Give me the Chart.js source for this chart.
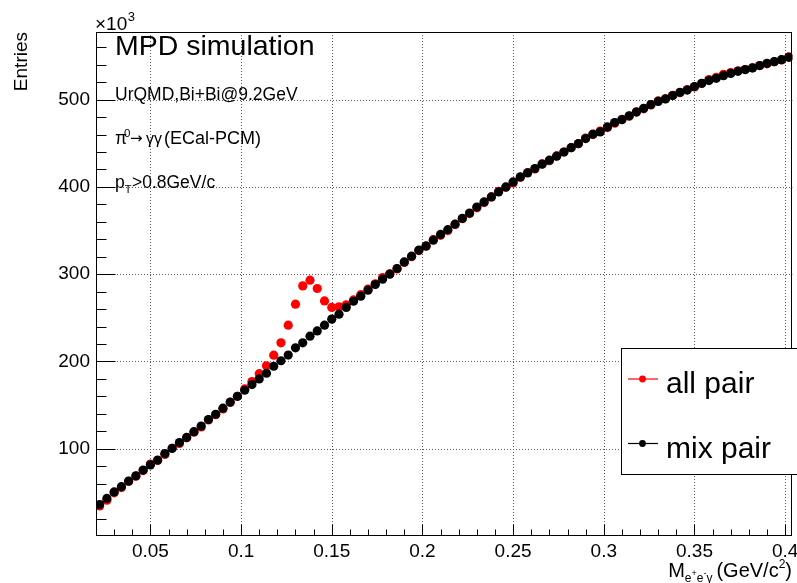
<!DOCTYPE html>
<html>
<head>
<meta charset="utf-8">
<script src="https://cdn.jsdelivr.net/npm/chart.js@4/dist/chart.umd.min.js"></script>
<style>
  html, body { margin: 0; padding: 0; background: #ffffff; }
  #wrap { width: 797px; height: 583px; }
</style>
</head>
<body>
<div id="wrap"><canvas id="c" width="797" height="583"></canvas></div>
<script>
// ---------------- data (values in units of 10^3 entries) ----------------
const binCenters = [
  0.022,0.026,0.030,0.034,0.038,0.042,0.046,0.050,0.054,0.058,
  0.062,0.066,0.070,0.074,0.078,0.082,0.086,0.090,0.094,0.098,
  0.102,0.106,0.110,0.114,0.118,0.122,0.126,0.130,0.134,0.138,
  0.142,0.146,0.150,0.154,0.158,0.162,0.166,0.170,0.174,0.178,
  0.182,0.186,0.190,0.194,0.198,0.202,0.206,0.210,0.214,0.218,
  0.222,0.226,0.230,0.234,0.238,0.242,0.246,0.250,0.254,0.258,
  0.262,0.266,0.270,0.274,0.278,0.282,0.286,0.290,0.294,0.298,
  0.302,0.306,0.310,0.314,0.318,0.322,0.326,0.330,0.334,0.338,
  0.342,0.346,0.350,0.354,0.358,0.362,0.366,0.370,0.374,0.378,
  0.382,0.386,0.390,0.394,0.398,0.402
];
const allPair = [
  34.5,41,49.5,55.5,62.5,68.5,75,82.5,86.5,93.5,
  100.5,106,112.5,119,125,133,139,145.5,153,160,
  168.5,177,186,195,207.2,221.3,241.6,265.6,286.6,293.1,
  283.6,269.4,261.9,262.6,265,270.5,276.5,283,289,296,
  300.5,306,313.5,320,327,332,339.5,344.5,350,357,
  363.5,369.5,376,382,388.5,395,399.5,404.5,411,416.5,
  420.5,426.5,430,435.5,440,445,449.5,456,460,464,
  468,473,477.5,481,486,489.5,494,498.5,501,505,
  508,511.5,514.5,518.5,523,525.5,529,531,533,534.5,
  536.5,539,541,543.5,545.5,549
];
const mixPair = [
  36,43,50.5,56.5,63,69,75.5,81.5,87,94.5,
  100.5,107,113,119.5,126,133.5,139.5,146.5,153.5,160,
  167,173.5,180,186.5,194.5,200.8,207.3,215.6,221.3,229,
  235,241.6,248.5,254.2,261.9,269,274.8,281.7,288.2,294.3,
  300,306.5,314,320.6,327.5,332.4,339,345.5,351,357.3,
  364,370,377,382.8,388.5,394.3,400,405.7,411.5,416,
  421,426,430.6,435.2,440,445,449.7,455.4,460.4,463,
  468.7,473.8,477,481.5,485.7,490,494.3,498,500.8,504.6,
  508.4,511,515,518.7,521.8,524.4,527.5,530,532.4,534.4,
  536.3,539,541.6,543.5,545.8,548.5
];
const seriesNames = ['all pair', 'mix pair'];
const xTickValues = [0.05,0.1,0.15,0.2,0.25,0.3,0.35,0.4];
const xTickLabels = ['0.05','0.1','0.15','0.2','0.25','0.3','0.35','0.4'];
const xMinorTicks = [0.03,0.04,0.06,0.07,0.08,0.09,0.11,0.12,0.13,0.14,0.16,0.17,0.18,0.19,
  0.21,0.22,0.23,0.24,0.26,0.27,0.28,0.29,0.31,0.32,0.33,0.34,0.36,0.37,0.38,0.39];
const yTickValues = [100,200,300,400,500];
const yTickLabels = ['100','200','300','400','500'];
const yMinorTicks = [20,40,60,80,120,140,160,180,220,240,260,280,320,340,360,380,420,440,460,480,520,540,560];
const annotationLines = ['MPD simulation', 'UrQMD,Bi+Bi@9.2GeV'];

// ---------------- styling helpers ----------------
const FONT = "'Liberation Sans', Arial, Helvetica, sans-serif";
const f = (px, fam) => px + 'px ' + (fam || FONT);

function drawSegments(ctx, x, segs) {
  // segs: [text, fontPx, baselineY, gapAfter, family]
  let cx = x;
  segs.forEach(s => {
    ctx.font = f(s[1], s[4]);
    ctx.fillText(s[0], cx, s[2]);
    cx += ctx.measureText(s[0]).width + (s[3] || 0);
  });
  return cx;
}
function segWidth(ctx, segs) {
  let w = 0;
  segs.forEach(s => { ctx.font = f(s[1], s[4]); w += ctx.measureText(s[0]).width + (s[3] || 0); });
  return w;
}

const rootStyle = {
  id: 'rootStyle',
  beforeDatasetsDraw(chart) {
    const {ctx, chartArea: a, scales: {x, y}} = chart;
    ctx.save();
    ctx.strokeStyle = '#5a5a5a';
    ctx.lineWidth = 1;
    ctx.setLineDash([1, 2]);
    xTickValues.forEach(v => {
      const px = Math.round(x.getPixelForValue(v)) + 0.5;
      ctx.beginPath(); ctx.moveTo(px, a.top); ctx.lineTo(px, a.bottom); ctx.stroke();
    });
    yTickValues.forEach(v => {
      const py = Math.round(y.getPixelForValue(v)) + 0.5;
      ctx.beginPath(); ctx.moveTo(a.left, py); ctx.lineTo(a.right, py); ctx.stroke();
    });
    ctx.restore();
  },
  afterDatasetsDraw(chart) {
    const {ctx, chartArea: a, scales: {x, y}} = chart;
    ctx.save();
    ctx.setLineDash([]);
    ctx.strokeStyle = '#000';
    ctx.lineWidth = 1;
    // frame
    ctx.strokeRect(Math.round(a.left) + 0.5, Math.round(a.top) + 0.5,
                   Math.round(a.right - a.left) - 1, Math.round(a.bottom - a.top) - 1);
    // inner ticks
    const L = Math.round(a.left) + 0.5, B = Math.round(a.bottom) - 0.5;
    ctx.beginPath();
    yTickValues.forEach(v => { const py = Math.round(y.getPixelForValue(v)) + 0.5; ctx.moveTo(L, py); ctx.lineTo(L + 19, py); });
    yMinorTicks.forEach(v => { const py = Math.round(y.getPixelForValue(v)) + 0.5; ctx.moveTo(L, py); ctx.lineTo(L + 10, py); });
    xTickValues.forEach(v => { const px = Math.round(x.getPixelForValue(v)) + 0.5; ctx.moveTo(px, B); ctx.lineTo(px, B - 11); });
    xMinorTicks.forEach(v => { const px = Math.round(x.getPixelForValue(v)) + 0.5; ctx.moveTo(px, B); ctx.lineTo(px, B - 6); });
    ctx.stroke();

    // text annotations
    ctx.fillStyle = '#000';
    ctx.textAlign = 'left';
    ctx.textBaseline = 'alphabetic';
    ctx.font = f(28.5);
    ctx.fillText(annotationLines[0], 115, 55);
    ctx.font = f(17.5);
    ctx.fillText(annotationLines[1], 115, 99.5);
    ctx.font = f(17.5); ctx.fillText('\u03C0', 115, 143.5);
    ctx.font = f(11.5); ctx.fillText('0', 124, 136.5);
    ctx.font = f(15, "'DejaVu Sans'"); ctx.fillText('\u2192', 130, 142.5);
    ctx.font = f(16); ctx.fillText('\u03B3\u03B3', 146, 143.5);
    ctx.font = f(18); ctx.fillText('(ECal-PCM)', 164, 143.5);
    drawSegments(ctx, 115, [
      ['p', 17.5, 187.5, 0],
      ['T', 11, 192.5, 0.5],
      ['>0.8GeV/c', 17.5, 187.5, 0]
    ]);
    // x10^3 exponent label
    drawSegments(ctx, 95, [
      ['\u00D710', 19, 30, 0.5],
      ['3', 13, 21, 0]
    ]);
    // x axis title (right aligned)
    const titleSegs = [
      ['M', 20, 577, 0],
      ['e', 12, 582, 0],
      ['+', 9, 576, 0],
      ['e', 12, 582, 0],
      ['-', 9, 576, 0],
      ['\u03B3', 12, 582, 4],
      ['(GeV/c', 20, 577, 0],
      ['2', 12, 568, 0],
      [')', 20, 577, 0]
    ];
    drawSegments(ctx, 792 - segWidth(ctx, titleSegs), titleSegs);

    // legend
    const lx = 621, ly = 348, lw = 200, lh = 126;
    ctx.fillStyle = '#fff';
    ctx.fillRect(lx, ly, lw, lh);
    ctx.strokeStyle = '#000';
    ctx.lineWidth = 1;
    ctx.strokeRect(lx + 0.5, ly + 0.5, lw, lh);
    const entries = [
      {ds: chart.data.datasets[0], my: 379, ty: 393},
      {ds: chart.data.datasets[1], my: 443.5, ty: 458}
    ];
    entries.forEach(e => {
      const col = e.ds.backgroundColor;
      ctx.strokeStyle = col;
      ctx.lineWidth = 1.2;
      ctx.beginPath(); ctx.moveTo(628, e.my); ctx.lineTo(658, e.my); ctx.stroke();
      ctx.fillStyle = col;
      ctx.beginPath(); ctx.arc(642.5, e.my, 3.4, 0, Math.PI * 2); ctx.fill();
      ctx.fillStyle = '#000';
      ctx.font = f(30);
      ctx.fillText(e.ds.label, 666, e.ty);
    });
    ctx.restore();
  }
};

const toPoints = (xs, ys) => xs.map((xv, i) => ({x: xv, y: ys[i]}));

new Chart(document.getElementById('c'), {
  type: 'scatter',
  data: {
    datasets: [
      {
        label: seriesNames[0],
        data: toPoints(binCenters, allPair),
        backgroundColor: '#ff0000',
        borderColor: '#ff0000',
        pointRadius: 4.6,
        pointHoverRadius: 4.6,
        pointBorderWidth: 0,
        borderWidth: 0,
        order: 2
      },
      {
        label: seriesNames[1],
        data: toPoints(binCenters, mixPair),
        backgroundColor: '#000000',
        borderColor: '#000000',
        pointRadius: 4.6,
        pointHoverRadius: 4.6,
        pointBorderWidth: 0,
        borderWidth: 0,
        order: 1
      }
    ]
  },
  options: {
    responsive: false,
    maintainAspectRatio: false,
    animation: false,
    devicePixelRatio: 1,
    layout: { padding: { top: 32, right: 1, left: 0, bottom: 0 } },
    plugins: { legend: { display: false }, tooltip: { enabled: false } },
    scales: {
      x: {
        type: 'linear',
        min: 0.02,
        max: 0.404,
        grid: { display: false, drawTicks: false },
        border: { display: false },
        afterBuildTicks: s => { s.ticks = xTickValues.map(v => ({value: v})); },
        afterFit: s => { s.height = 47; s.paddingLeft = 0; s.paddingRight = 0; },
        ticks: {
          autoSkip: false,
          maxRotation: 0,
          minRotation: 0,
          padding: 4,
          color: '#000',
          font: { family: FONT, size: 19 },
          callback: (v, i) => xTickLabels[i]
        }
      },
      y: {
        type: 'linear',
        min: 0,
        max: 577.5,
        grid: { display: false, drawTicks: false },
        border: { display: false },
        afterBuildTicks: s => { s.ticks = yTickValues.map(v => ({value: v})); },
        afterFit: s => { s.width = 96; s.paddingTop = 0; s.paddingBottom = 0; },
        ticks: {
          autoSkip: false,
          padding: 6,
          color: '#000',
          font: { family: FONT, size: 19 },
          callback: (v, i) => yTickLabels[i]
        },
        title: {
          display: true,
          text: 'Entries',
          align: 'end',
          color: '#000',
          font: { family: FONT, size: 19 },
          padding: { top: 10, bottom: 0 }
        }
      }
    }
  },
  plugins: [rootStyle]
});
</script>
</body>
</html>
